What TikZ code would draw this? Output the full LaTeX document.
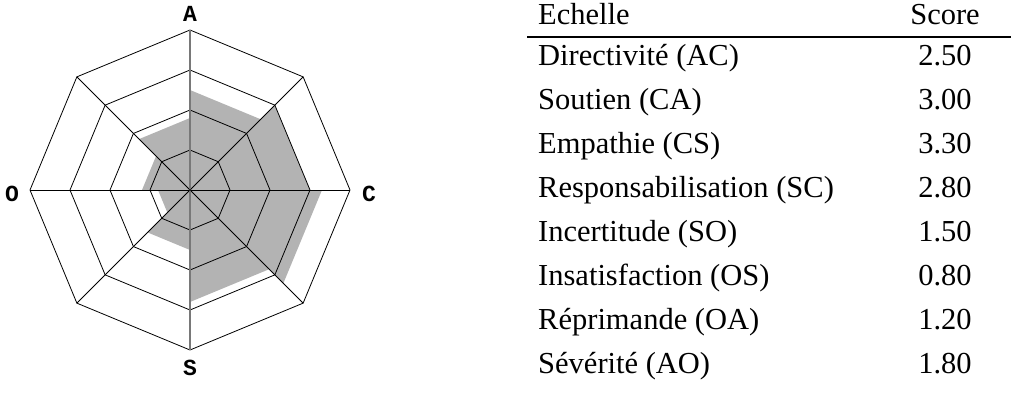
\documentclass[tikz,border=0pt]{standalone}
\usepackage{fontspec}
\setmainfont{Liberation Serif}
\newfontfamily\labfont{Liberation Mono}
\definecolor{fillgrey}{RGB}{179,179,179}
\definecolor{axisgrey}{RGB}{120,120,120}
\begin{document}
\begin{tikzpicture}[x=1pt,y=1pt,
  gridline/.style={black,line width=0.8pt,line join=miter},
  spoke/.style={black,line width=0.8pt},
  vspoke/.style={axisgrey,line width=1.3pt},
  axislabel/.style={font=\labfont\bfseries\fontsize{23}{23}\selectfont,inner sep=0pt},
  rowtext/.style={font=\fontsize{30.5}{36}\selectfont,inner sep=0pt,anchor=base west},
  rowval/.style={font=\fontsize{30.5}{36}\selectfont,inner sep=0pt,anchor=base}]
\useasboundingbox (0,0) rectangle (1011,-394);
\begin{scope}[shift={(190,-190)},x=40pt,y=40pt]
  \fill[fillgrey] (90:2.5) -- (45:2.5) -- (45:3.0) -- (0:3.0) -- (0:3.3) -- (-45:3.3)
    -- (-45:2.8) -- (-90:2.8) -- (-90:1.5) -- (-135:1.5) -- (-135:0.8) -- (180:0.8)
    -- (180:1.2) -- (135:1.2) -- (135:1.8) -- (90:1.8) -- cycle;
  \foreach \r in {1,2,3,4}
    \draw[gridline] (0:\r) -- (45:\r) -- (90:\r) -- (135:\r) -- (180:\r) -- (225:\r) -- (270:\r) -- (315:\r) -- cycle;
  \coordinate (ctr) at (0,0);
  \coordinate (A) at (90:4);
  \coordinate (NE) at (45:4);
  \coordinate (C) at (0:4);
  \coordinate (SE) at (-45:4);
  \coordinate (S) at (-90:4);
  \coordinate (SW) at (-135:4);
  \coordinate (O) at (180:4);
  \coordinate (NW) at (135:4);
  \draw[spoke] (O) -- (C);
  \draw[spoke] (NE) -- (SW);
  \draw[spoke] (NW) -- (SE);
  \draw[vspoke] (A) -- (S);
  \fill (ctr) circle (1.2pt);
\end{scope}
\node[axislabel] (labA) at (190,-14) {A};
\node[axislabel] (labC) at (369,-194) {C};
\node[axislabel] (labS) at (190,-368) {S};
\node[axislabel] (labO) at (12,-194) {O};
% table
\node[rowtext] (h1) at (538,-24) {Echelle};
\node[rowval] (h2) at (945,-24) {Score};
\coordinate (ruleL) at (527,-37);
\coordinate (ruleR) at (1011,-37);
\draw[line width=2pt] (ruleL) -- (ruleR);
\node[rowtext] (r1) at (538,-65) {Directivité (AC)};
\node[rowval] (v1) at (945,-65) {2.50};
\node[rowtext] (r2) at (538,-109) {Soutien (CA)};
\node[rowval] (v2) at (945,-109) {3.00};
\node[rowtext] (r3) at (538,-153) {Empathie (CS)};
\node[rowval] (v3) at (945,-153) {3.30};
\node[rowtext] (r4) at (538,-197) {Responsabilisation (SC)};
\node[rowval] (v4) at (945,-197) {2.80};
\node[rowtext] (r5) at (538,-241) {Incertitude (SO)};
\node[rowval] (v5) at (945,-241) {1.50};
\node[rowtext] (r6) at (538,-285) {Insatisfaction (OS)};
\node[rowval] (v6) at (945,-285) {0.80};
\node[rowtext] (r7) at (538,-329) {Réprimande (OA)};
\node[rowval] (v7) at (945,-329) {1.20};
\node[rowtext] (r8) at (538,-373) {Sévérité (AO)};
\node[rowval] (v8) at (945,-373) {1.80};
\end{tikzpicture}
\end{document}
